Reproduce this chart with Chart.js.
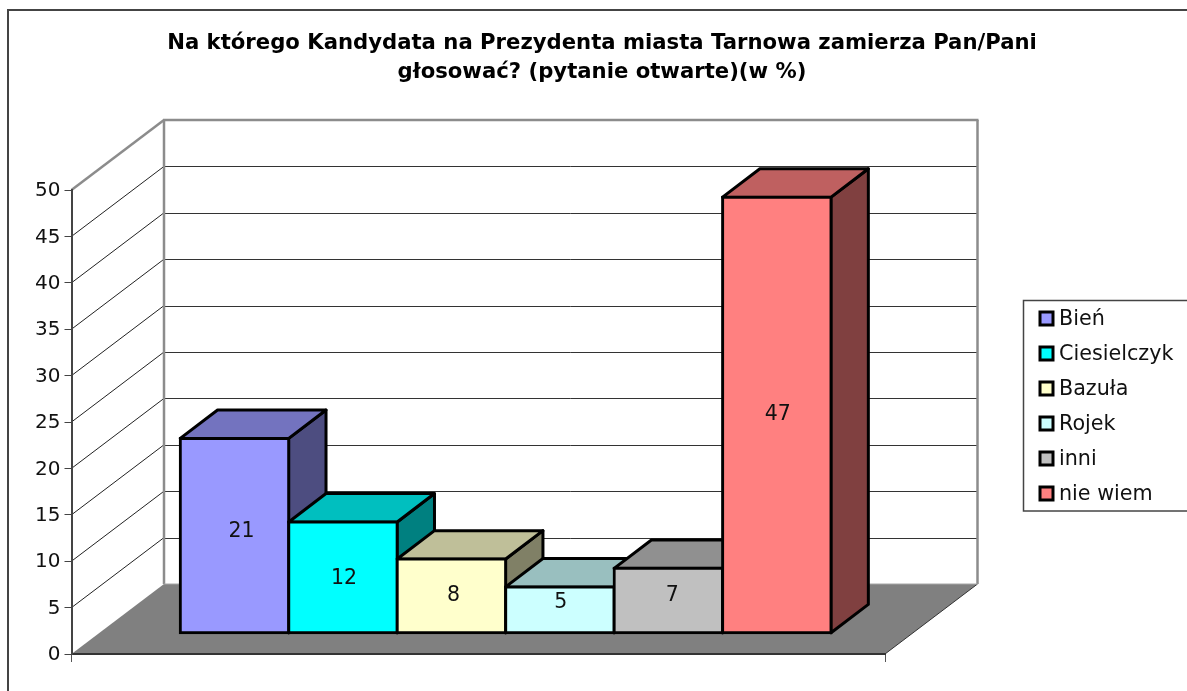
<!DOCTYPE html>
<html lang="pl">
<head>
<meta charset="utf-8">
<title>Kandydaci na Prezydenta Tarnowa</title>
<style>
  html, body { margin: 0; padding: 0; background: #fff; }
  canvas { display: block; }
</style>
</head>
<body>
<canvas id="chart" width="1187" height="691"></canvas>
<script src="https://cdn.jsdelivr.net/npm/chart.js@4/dist/chart.umd.min.js"></script>
<script>
var titleLines = [
  "Na którego Kandydata na Prezydenta miasta Tarnowa zamierza Pan/Pani",
  "głosować? (pytanie otwarte)(w %)"
];
var seriesNames = ["Bień", "Ciesielczyk", "Bazuła", "Rojek", "inni", "nie wiem"];
var seriesValues = [21, 12, 8, 5, 7, 47];
var frontColors = ["#9999FF", "#00FFFF", "#FFFFCC", "#CCFFFF", "#C0C0C0", "#FF8080"];
var topColors = ["#7373BF", "#00BFBF", "#BFBF99", "#99BFBF", "#909090", "#BF6060"];
var sideColors = ["#4D4D80", "#008080", "#808066", "#668080", "#606060", "#804040"];
var yMax = 50;
var yStep = 5;

var FONT = "'DejaVu Sans', Verdana, sans-serif";
// Oblique projection of the 3D look: whole floor depth, gap in front of the bars, bar depth.
var WALL = { dx: 92.5, dy: -70 };
var GAP = { dx: 27.4, dy: -20.7 };
var BAR = { dx: 37.3, dy: -28.4 };
// Excel does not centre the labels exactly on the front face.
var LABEL_NUDGE = [[7, -4], [1, 1], [2, 0], [1, -7], [4, -5], [1, 0]];

function poly(ctx, pts, fill, stroke, width) {
  ctx.beginPath();
  ctx.moveTo(pts[0][0], pts[0][1]);
  for (var i = 1; i < pts.length; i++) ctx.lineTo(pts[i][0], pts[i][1]);
  ctx.closePath();
  if (fill) { ctx.fillStyle = fill; ctx.fill(); }
  if (stroke) { ctx.strokeStyle = stroke; ctx.lineWidth = width; ctx.stroke(); }
}

function line(ctx, x1, y1, x2, y2, color, width) {
  ctx.beginPath();
  ctx.moveTo(x1, y1);
  ctx.lineTo(x2, y2);
  ctx.strokeStyle = color;
  ctx.lineWidth = width;
  ctx.stroke();
}

var chart3d = {
  id: "chart3d",
  afterLayout: function (chart) {
    // title is centred over the whole picture, not over the plot
    chart.titleBlock.left = 17;
    chart.titleBlock.right = 1187;
  },
  beforeDraw: function (chart) {
    var ctx = chart.ctx, a = chart.chartArea, y = chart.scales.y;
    ctx.save();
    ctx.fillStyle = "#fff";
    ctx.fillRect(0, 0, chart.width, chart.height);

    // outer frame, cut off by the screenshot on the right and bottom
    line(ctx, 8, 10, 8, 691, "#444", 2);
    line(ctx, 7, 10, 1187, 10, "#444", 2);

    // floor
    poly(ctx, [[a.left, a.bottom], [a.right, a.bottom],
      [a.right + WALL.dx, a.bottom + WALL.dy], [a.left + WALL.dx, a.bottom + WALL.dy]], "#808080");
    line(ctx, a.right, a.bottom, a.right + WALL.dx, a.bottom + WALL.dy, "#333", 1);

    // wall grid lines
    y.ticks.forEach(function (t) {
      if (t.value === 0 || t.value === yMax) return;
      var py = y.getPixelForValue(t.value);
      line(ctx, a.left, py, a.left + WALL.dx, py + WALL.dy, "#222", 1);
      line(ctx, a.left + WALL.dx, Math.round(py + WALL.dy) + 0.5, a.right + WALL.dx, Math.round(py + WALL.dy) + 0.5, "#333", 1);
    });

    // wall edges
    var top = a.top + WALL.dy, bot = a.bottom + WALL.dy, lx = a.left + WALL.dx, rx = a.right + WALL.dx;
    line(ctx, a.left, a.top, lx, top, "#8c8c8c", 2.5);
    line(ctx, lx - 1, top, rx + 1, top, "#8c8c8c", 2.5);
    line(ctx, lx, top, lx, bot, "#8c8c8c", 2.5);
    line(ctx, rx, top, rx, bot, "#8c8c8c", 2.5);
    line(ctx, lx, bot, rx, bot, "#a6a6a6", 1);
    ctx.restore();
  },
  beforeDatasetDraw: function () {
    return false; // bars are painted left to right below, so nearer faces overlap correctly
  },
  afterDatasetsDraw: function (chart) {
    var ctx = chart.ctx;
    ctx.save();
    ctx.translate(GAP.dx, GAP.dy);
    ctx.lineJoin = "round";
    seriesValues.forEach(function (v, i) {
      var el = chart.getDatasetMeta(i).data[0];
      var l = el.x - el.width / 2, r = el.x + el.width / 2, t = el.y, b = el.base;
      poly(ctx, [[r, t], [r + BAR.dx, t + BAR.dy], [r + BAR.dx, b + BAR.dy], [r, b]], sideColors[i], "#000", 3);
      poly(ctx, [[l, t], [l + BAR.dx, t + BAR.dy], [r + BAR.dx, t + BAR.dy], [r, t]], topColors[i], "#000", 3);
      el.draw(ctx);
    });
    ctx.font = "20.5px " + FONT;
    ctx.fillStyle = "#111";
    ctx.textAlign = "center";
    ctx.textBaseline = "middle";
    seriesValues.forEach(function (v, i) {
      var el = chart.getDatasetMeta(i).data[0];
      ctx.fillText(String(v), el.x + LABEL_NUDGE[i][0], (el.y + el.base) / 2 + LABEL_NUDGE[i][1]);
    });
    ctx.restore();
  },
  afterDraw: function (chart) {
    // legend box runs off the right edge in the reference, so it is drawn by hand
    var ctx = chart.ctx;
    ctx.save();
    ctx.strokeStyle = "#444";
    ctx.lineWidth = 1.5;
    ctx.strokeRect(1023.5, 300.5, 180, 210.5);
    ctx.font = "20.7px " + FONT;
    ctx.textBaseline = "middle";
    seriesNames.forEach(function (name, i) {
      var cy = 319 + i * 35;
      ctx.fillStyle = frontColors[i];
      ctx.fillRect(1040, cy - 7, 13, 13);
      ctx.strokeStyle = "#000";
      ctx.lineWidth = 3;
      ctx.strokeRect(1040, cy - 7, 13, 13);
      ctx.fillStyle = "#111";
      ctx.fillText(name, 1059, cy + 1);
    });
    ctx.restore();
  }
};

new Chart(document.getElementById("chart"), {
  type: "bar",
  data: {
    labels: [""],
    datasets: seriesNames.map(function (name, i) {
      return {
        label: name,
        data: [seriesValues[i]],
        backgroundColor: frontColors[i],
        borderColor: "#000",
        borderWidth: 3,
        borderSkipped: false,
        inflateAmount: 1.5
      };
    })
  },
  plugins: [chart3d],
  options: {
    responsive: false,
    animation: false,
    categoryPercentage: 0.8,
    barPercentage: 1,
    layout: { padding: { left: 0, right: 302, top: 0, bottom: 29 } },
    scales: {
      x: {
        ticks: { display: false },
        border: { color: "#333", width: 2 },
        grid: { drawOnChartArea: false, color: "#555", tickLength: 8 }
      },
      y: {
        min: 0,
        max: yMax,
        afterFit: function (scale) { scale.width = 71.5; },
        ticks: { stepSize: yStep, color: "#111", padding: 4, labelOffset: 1, font: { family: FONT, size: 20 } },
        border: { color: "#444", width: 2 },
        grid: { drawOnChartArea: false, color: "#444", tickLength: 7 }
      }
    },
    plugins: {
      legend: { display: false },
      tooltip: { enabled: false },
      title: {
        display: true,
        text: titleLines,
        color: "#000",
        padding: { top: 29, bottom: 103 },
        font: { family: FONT, size: 21.2, weight: "bold", lineHeight: 1.368 }
      }
    }
  }
});
</script>
</body>
</html>
